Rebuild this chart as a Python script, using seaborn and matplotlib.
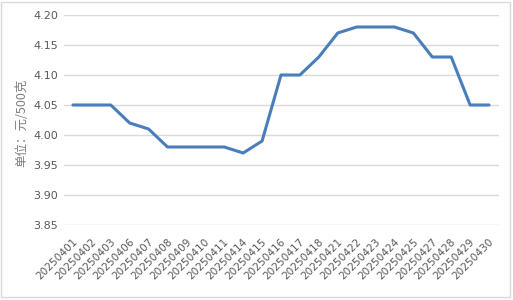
import matplotlib
matplotlib.use("Agg")
import matplotlib.pyplot as plt
import matplotlib.transforms as mtransforms
import seaborn as sns
import pandas as pd
from matplotlib.patches import Rectangle

dates = ["20250401", "20250402", "20250403", "20250406", "20250407", "20250408",
         "20250409", "20250410", "20250411", "20250414", "20250415", "20250416",
         "20250417", "20250418", "20250421", "20250422", "20250423", "20250424",
         "20250425", "20250427", "20250428", "20250429", "20250430"]
prices = [4.05, 4.05, 4.05, 4.02, 4.01, 3.98, 3.98, 3.98, 3.98, 3.97, 3.99, 4.10,
          4.10, 4.13, 4.17, 4.18, 4.18, 4.18, 4.17, 4.13, 4.13, 4.05, 4.05]
yticks = [3.85, 3.90, 3.95, 4.00, 4.05, 4.10, 4.15, 4.20]
ylabel = "单位：元/500克"

sns.set_theme(style="white")
plt.rcParams['font.family'] = ['Noto Sans CJK SC', 'DejaVu Sans']

df = pd.DataFrame({"date": dates, "price": prices, "x": range(len(dates))})

fig = plt.figure(figsize=(5.13, 3.0), dpi=100)
ax = fig.add_axes([63.5 / 513, 1 - 225 / 300, (498.5 - 63.5) / 513, (225 - 15) / 300])
sns.lineplot(data=df, x="x", y="price", ax=ax, color="#4a7ebb", linewidth=2.2)

ax.set_xlim(-0.5, len(dates) - 0.5)
ax.set_ylim(3.85, 4.20)
ax.set_yticks(yticks)
ax.set_yticklabels([f"{v:.2f}" for v in yticks], color="#595959", fontsize=8,
                   family=['DejaVu Sans'])
ax.set_xticks(range(len(dates)))
ax.set_xticklabels(dates, rotation=45, ha="right", va="center", rotation_mode="anchor",
                   color="#595959", fontsize=7.6, family=['DejaVu Sans'])
ax.tick_params(axis="y", length=0, pad=4)
ax.tick_params(axis="x", length=0, pad=11)
offset = mtransforms.ScaledTranslation(3 / 100, 0, fig.dpi_scale_trans)
for lbl in ax.get_xticklabels():
    lbl.set_transform(lbl.get_transform() + offset)
ax.grid(axis="y", color="#d9d9d9", linewidth=1)
ax.set_axisbelow(True)
for s in ax.spines.values():
    s.set_visible(False)
ax.set_xlabel("")
ax.set_ylabel(ylabel, color="#7f7f7f", fontsize=9)
ax.yaxis.set_label_coords(-0.082, 0.486)

fig.patches.append(Rectangle((1 / 513, 3 / 300), 509 / 513, 295 / 300, transform=fig.transFigure,
                             fill=False, edgecolor="#d9d9d9", linewidth=1))

fig.savefig("out.png", dpi=100)
